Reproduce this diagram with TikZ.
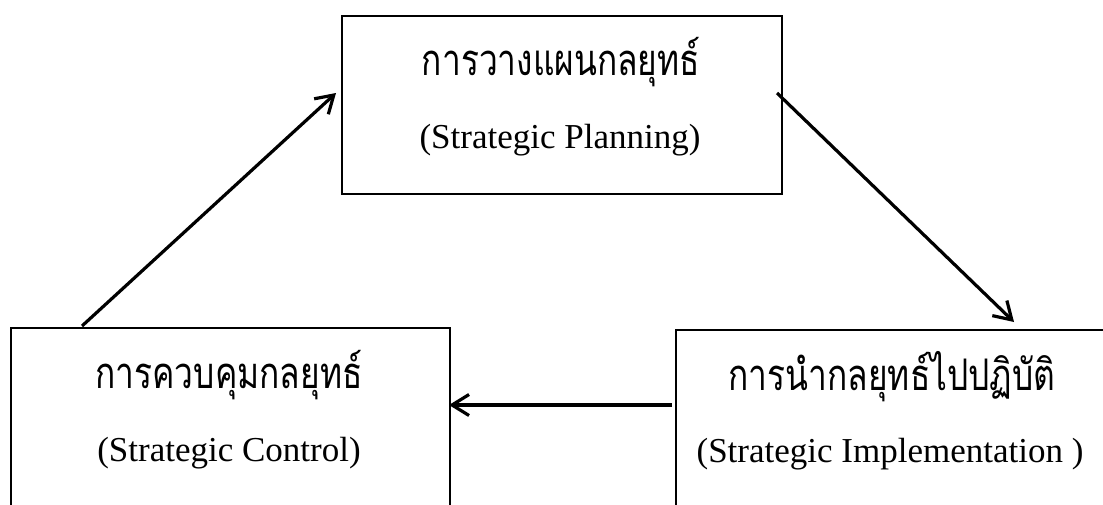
\documentclass[tikz,border=0pt]{standalone}
\usepackage{fontspec}
\setmainfont{Liberation Serif}
\newfontfamily\thaifont[Script=Thai]{Loma}
\usetikzlibrary{arrows.meta}
\newcommand{\thstr}[1]{\scalebox{1}[1.3]{#1}}
\tikzset{
  box/.style={draw, line width=2pt, rectangle, inner sep=0pt, anchor=north west},
  thtext/.style={font=\thaifont\fontsize{33.5}{40}\selectfont, inner sep=0pt, anchor=base},
  entext/.style={font=\fontsize{35}{42}\selectfont, inner sep=0pt, anchor=base},
  arr/.style={line width=3.2pt, -{Straight Barb[length=17pt,width=21pt,line width=3.2pt]}}
}
\begin{document}
\begin{tikzpicture}[x=1pt,y=-1pt]
\path[use as bounding box] (0,0) rectangle (1103,504);
\clip (0,0) rectangle (1103,504);
\fill[white] (0,0) rectangle (1103,504);
% boxes
\node[box, minimum width=439.5pt, minimum height=177.7pt] (P) at (341,15) {};
\node[box, minimum width=439pt, minimum height=220pt] (C) at (10,326.5) {};
\node[box, minimum width=432pt, minimum height=220pt] (I) at (674.6,329) {};
% texts
\node[thtext] (Pth) at (561,75) {\thstr{การวางแผนกลยุทธ์}};
\node[entext] (Pen) at (560,148) {(Strategic Planning)};
\node[thtext] (Cth) at (229,388) {\thstr{การควบคุมกลยุทธ์}};
\node[entext] (Cen) at (229,461) {(Strategic Control)};
\node[thtext] (Ith) at (892,390) {\thstr{การนำกลยุทธ์ไปปฏิบัติ}};
\node[entext] (Ien) at (890,462) {(Strategic Implementation )};
% connector ends
\coordinate (a1s) at (82,326);
\coordinate (a1e) at (336,93);
\coordinate (a2s) at (777,93);
\coordinate (a2e) at (1014,322);
\coordinate (a3s) at (672,405);
\coordinate (a3e) at (449,405);
\draw[arr] (a1s) -- (a1e);
\draw[arr] (a2s) -- (a2e);
\draw[arr] (a3s) -- (a3e);
\end{tikzpicture}
\end{document}
